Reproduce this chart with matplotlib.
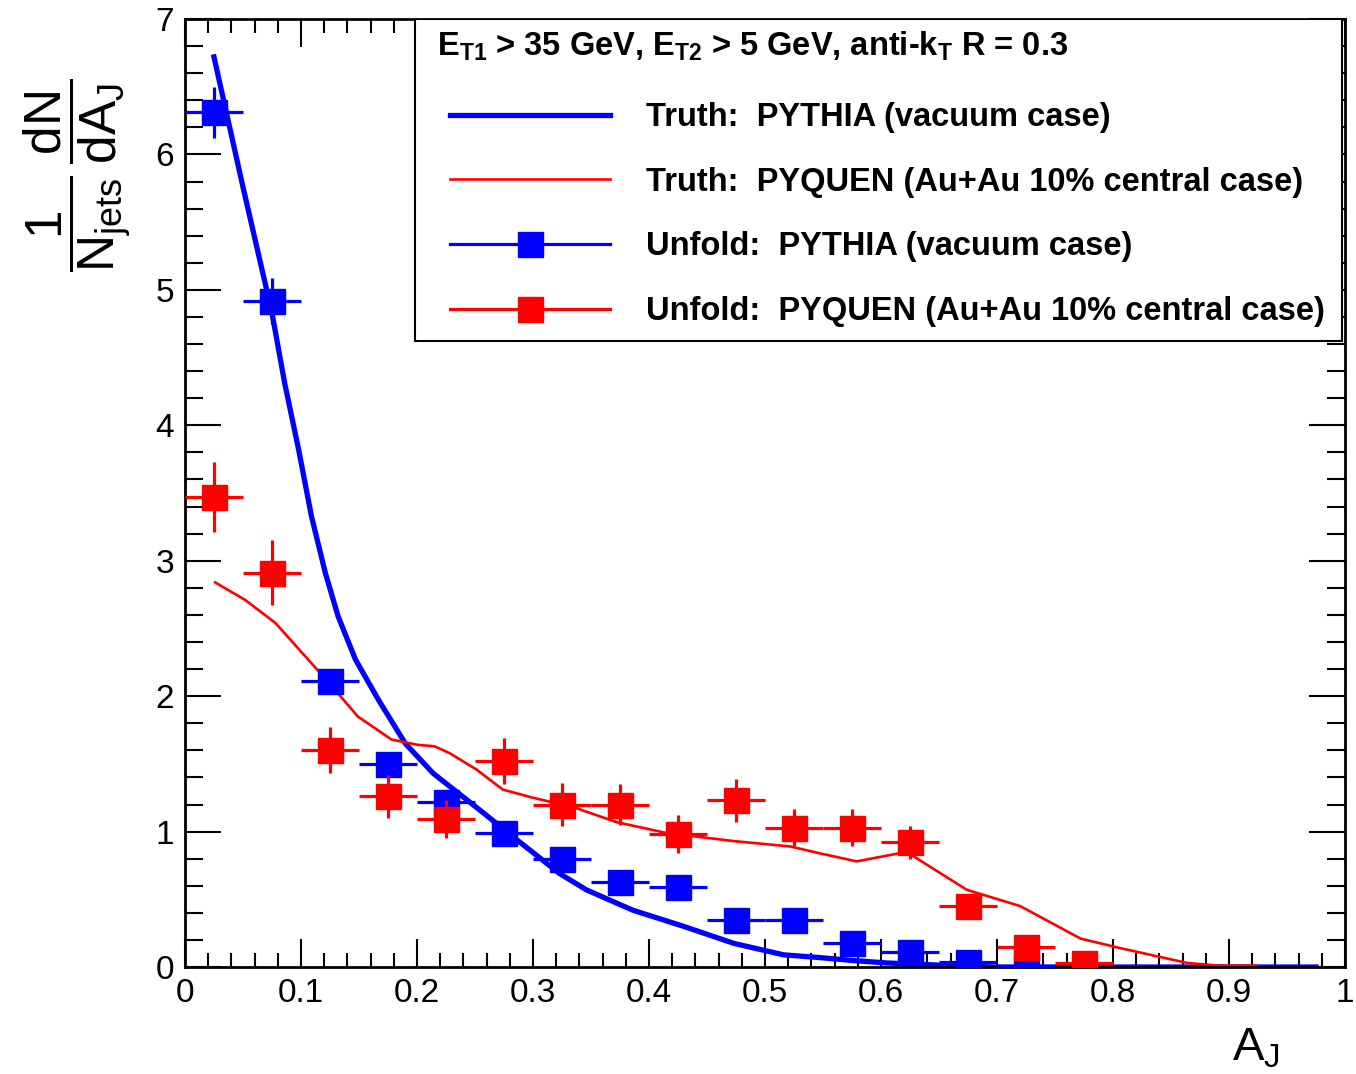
import matplotlib

matplotlib.use("Agg")
import matplotlib.pyplot as plt
from matplotlib.lines import Line2D
from matplotlib.patches import Rectangle
from matplotlib.ticker import MultipleLocator

plt.rcParams["font.family"] = ["Liberation Sans", "DejaVu Sans"]
plt.rcParams["mathtext.fontset"] = "custom"
plt.rcParams["mathtext.rm"] = "Liberation Sans"
plt.rcParams["mathtext.it"] = "Liberation Sans"
plt.rcParams["mathtext.bf"] = "Liberation Sans:bold"

BLUE = "#0000ff"
RED = "#ff0000"

# unfolded spectra, bin centres (bin width 0.05)
bin_centres_pythia = [0.025, 0.075, 0.125, 0.175, 0.225, 0.275, 0.325, 0.375,
                      0.425, 0.475, 0.525, 0.575, 0.625, 0.675, 0.725]
unfold_pythia = [6.31, 4.92, 2.11, 1.50, 1.22, 0.99, 0.80, 0.63,
                 0.59, 0.35, 0.35, 0.18, 0.11, 0.04, 0.01]
unfold_pythia_err = [0.19, 0.17, 0.09, 0.06, 0.05, 0.05, 0.04, 0.04,
                     0.04, 0.03, 0.03, 0.02, 0.02, 0.01, 0.01]

bin_centres_pyquen = [0.025, 0.075, 0.125, 0.175, 0.225, 0.275, 0.325, 0.375,
                      0.425, 0.475, 0.525, 0.575, 0.625, 0.675, 0.725, 0.775]
unfold_pyquen = [3.47, 2.91, 1.60, 1.26, 1.09, 1.52, 1.20, 1.20,
                 0.98, 1.23, 1.03, 1.03, 0.92, 0.45, 0.15, 0.03]
unfold_pyquen_err = [0.26, 0.24, 0.17, 0.16, 0.14, 0.17, 0.16, 0.15,
                     0.14, 0.16, 0.14, 0.14, 0.12, 0.06, 0.04, 0.02]
half_bin = [0.025] * 16

# truth curves
truth_pythia_x = [0.025, 0.05, 0.075, 0.086, 0.098, 0.109, 0.121, 0.132, 0.147,
                  0.167, 0.19, 0.214, 0.257, 0.286, 0.323, 0.346, 0.386, 0.43,
                  0.473, 0.516, 0.547, 0.573, 0.605, 0.662, 0.7, 0.8, 0.9, 0.975]
truth_pythia_y = [6.72, 5.76, 4.83, 4.31, 3.82, 3.33, 2.91, 2.59, 2.27,
                  1.97, 1.65, 1.43, 1.14, 0.94, 0.69, 0.57, 0.42, 0.30,
                  0.175, 0.09, 0.07, 0.05, 0.03, 0.01, 0.0, 0.0, 0.0, 0.0]

truth_pyquen_x = [0.026, 0.052, 0.078, 0.101, 0.124, 0.149, 0.178, 0.201, 0.215,
                  0.228, 0.251, 0.274, 0.3, 0.335, 0.372, 0.415, 0.473, 0.522,
                  0.547, 0.579, 0.622, 0.674, 0.72, 0.772, 0.806, 0.864, 0.892, 0.924]
truth_pyquen_y = [2.84, 2.71, 2.54, 2.32, 2.10, 1.85, 1.68, 1.64, 1.63,
                  1.58, 1.46, 1.31, 1.25, 1.18, 1.07, 0.99, 0.93, 0.89,
                  0.84, 0.78, 0.85, 0.57, 0.45, 0.21, 0.14, 0.03, 0.01, 0.01]

fig = plt.figure(figsize=(13.56, 10.74), dpi=100)
ax = fig.add_axes([0.1364, 0.0996, 0.8555, 0.8827])

ax.plot(truth_pythia_x, truth_pythia_y, color=BLUE, lw=3.8, zorder=2,
        solid_joinstyle="round")
ax.plot(truth_pyquen_x, truth_pyquen_y, color=RED, lw=1.9, zorder=2,
        solid_joinstyle="round")

ax.errorbar(bin_centres_pythia, unfold_pythia, xerr=half_bin[:15], yerr=unfold_pythia_err,
            fmt="s", color=BLUE, ms=18, elinewidth=2.3, capsize=0, zorder=3)
ax.errorbar(bin_centres_pyquen, unfold_pyquen, xerr=half_bin, yerr=unfold_pyquen_err,
            fmt="s", color=RED, ms=18, elinewidth=2.3, capsize=0, zorder=4)

ax.set_xlim(0, 1)
ax.set_ylim(0, 7)
ax.xaxis.set_minor_locator(MultipleLocator(0.02))
ax.yaxis.set_minor_locator(MultipleLocator(0.2))
ax.set_xticks([0, 0.1, 0.2, 0.3, 0.4, 0.5, 0.6, 0.7, 0.8, 0.9, 1.0])
ax.set_xticklabels(["0", "0.1", "0.2", "0.3", "0.4", "0.5", "0.6", "0.7", "0.8", "0.9", "1"])
ax.set_yticks(range(8))
ax.set_yticklabels([str(i) for i in range(8)])

ax.tick_params(which="both", direction="in", top=True, right=True, width=1.5,
               labelsize=24, color="black")
ax.tick_params(axis="x", which="major", length=20, pad=8)
ax.tick_params(axis="x", which="minor", length=10)
ax.tick_params(axis="y", which="major", length=26, pad=8)
ax.tick_params(axis="y", which="minor", length=13)
for spine in ax.spines.values():
    spine.set_linewidth(2)

fig.text(0.944, 0.003, r"$\mathregular{A_J}$", fontsize=34, ha="right", va="bottom")
fig.text(0.057, 0.837, r"$\mathregular{\dfrac{1}{N_{jets}}\,\dfrac{dN}{dA_J}}$",
         fontsize=37, rotation=90, ha="center", va="center")

# legend box (ROOT TLegend style)
ax.add_patch(Rectangle((0.198, 0.660), 0.7994, 0.340, transform=ax.transAxes,
                       facecolor="white", edgecolor="black", lw=1.5, zorder=4.5))
ax.text(0.2172, 0.9715,
        r"$\mathbf{E_{T1}}$ > 35 GeV, $\mathbf{E_{T2}}$ > 5 GeV, anti-$\mathbf{k_{T}}$ R = 0.3",
        transform=ax.transAxes, fontsize=23.5, fontweight="bold", ha="left",
        va="center", zorder=6)

handles = [
    Line2D([], [], color=BLUE, lw=3.8),
    Line2D([], [], color=RED, lw=1.9),
    Line2D([], [], color=BLUE, lw=2.3, marker="s", ms=18),
    Line2D([], [], color=RED, lw=2.3, marker="s", ms=18),
]
labels = [
    "Truth:  PYTHIA (vacuum case)",
    "Truth:  PYQUEN (Au+Au 10% central case)",
    "Unfold:  PYTHIA (vacuum case)",
    "Unfold:  PYQUEN (Au+Au 10% central case)",
]
leg = ax.legend(handles, labels, loc="upper left", bbox_to_anchor=(0.2284, 0.9123),
                borderaxespad=0, borderpad=0, frameon=False,
                prop={"weight": "bold", "size": 23.5}, numpoints=1,
                handlelength=4.9, handletextpad=1.1, labelspacing=1.03)
leg.set_zorder(6)

fig.savefig("out.png", dpi=100)
